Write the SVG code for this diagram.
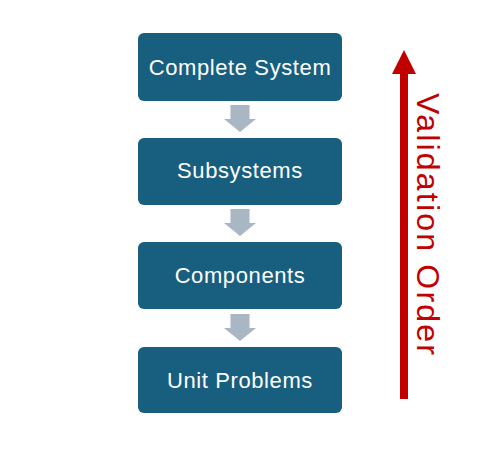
<svg xmlns="http://www.w3.org/2000/svg" width="478" height="458" viewBox="0 0 478 458">
<style>
.box{fill:#185F7F;}
.lbl{fill:#FFFFFF;font-family:"Liberation Sans",Arial,sans-serif;font-size:22px;text-anchor:middle;letter-spacing:0.6px;}
.down{fill:#A9B6C4;}
.vo{fill:#C00000;font-family:"Liberation Sans",Arial,sans-serif;font-size:32px;}
</style>
<rect width="478" height="458" fill="#FFFFFF"/>
<g id="n1"><rect class="box" x="138" y="33" width="204" height="68" rx="6"/><text class="lbl" x="240" y="74.5">Complete System</text></g>
<g id="n2"><rect class="box" x="138" y="138" width="204" height="67" rx="6"/><text class="lbl" x="240" y="178">Subsystems</text></g>
<g id="n3"><rect class="box" x="138" y="242" width="204" height="67" rx="6"/><text class="lbl" x="240" y="282.5">Components</text></g>
<g id="n4"><rect class="box" x="138" y="347" width="204" height="66" rx="6"/><text class="lbl" x="240" y="387.5">Unit Problems</text></g>
<g id="connectors">
<path class="down" d="M230.5,105 H249.5 V119 H256 L240,132 L224,119 H230.5 Z"/>
<path class="down" d="M230.5,209 H249.5 V223 H256 L240,236 L224,223 H230.5 Z"/>
<path class="down" d="M230.5,314 H249.5 V328 H256 L240,341 L224,328 H230.5 Z"/>
<path fill="#C00000" d="M400,399 V74 H392 L404,50 L416,74 H408 V399 Z"/>
</g>
<text class="vo" transform="translate(417,93) rotate(90)" textLength="262" lengthAdjust="spacing">Validation Order</text>
</svg>
